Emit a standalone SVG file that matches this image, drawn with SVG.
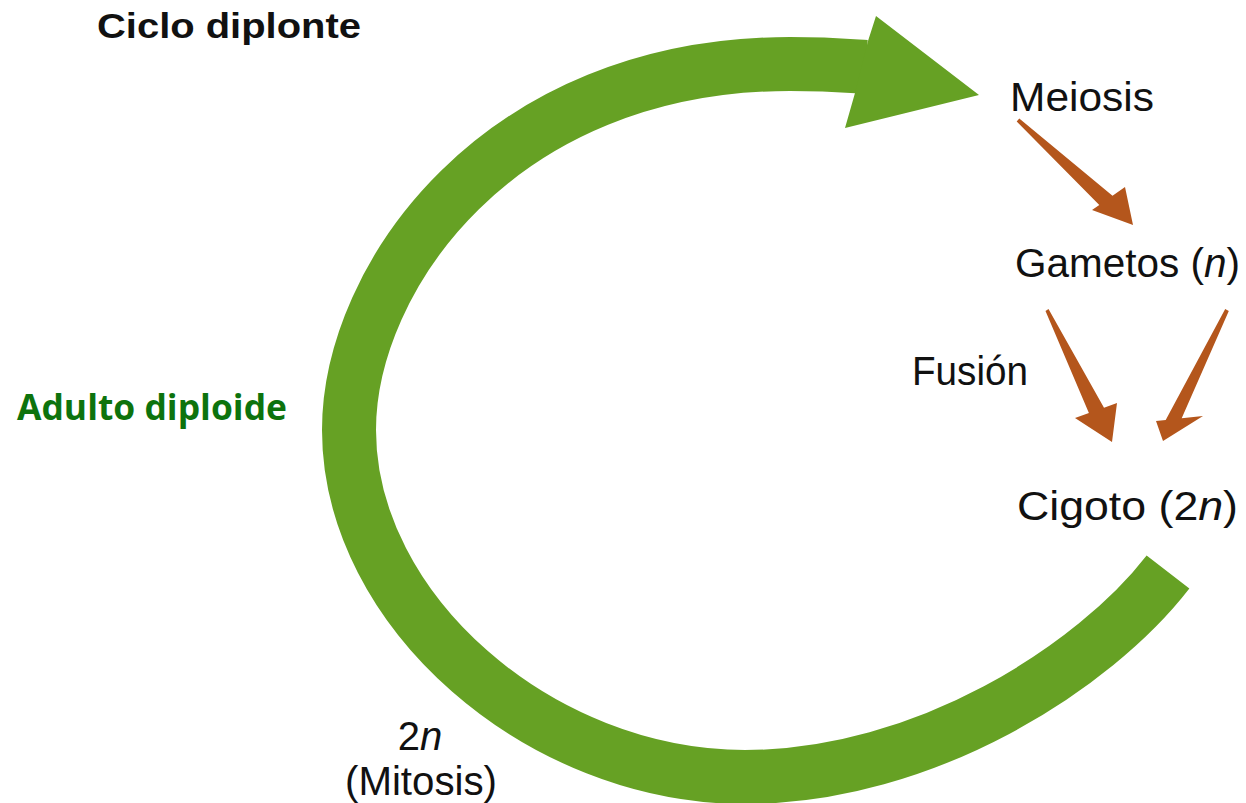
<svg xmlns="http://www.w3.org/2000/svg" width="1246" height="803" viewBox="0 0 1246 803">
  <style>
    .lbl { font-family: "Liberation Sans", Arial, sans-serif; font-size: 40px; fill: #111; }
    .title { font-family: "Liberation Sans", Arial, sans-serif; font-size: 35px; font-weight: bold; fill: #111; }
    .adult { font-family: "Open Sans", "Liberation Sans", sans-serif; font-size: 35px; font-weight: bold; fill: #0d730d; }
    .cycle { fill: none; stroke: #66a124; stroke-width: 54; stroke-linecap: butt; }
    .cyclehead { fill: #66a124; }
    .brown { fill: #b4561c; }
  </style>
  <rect width="1246" height="803" fill="#ffffff"/>

  <g id="cycle-arrow">
    <path class="cycle" d="M1168,572 C1094.8,666.8 925,777 745,777 C539.1,777 349,610.4 349,430 C349,278 498,64 790,64 C830,64 850,66 866,67"/>
    <polygon class="cyclehead" points="868,41 876,16 979,95 845,128 855,93"/>
  </g>

  <g id="connectors">
    <polygon class="brown" points="1016.7,121.5 1099.3,204.9 1092,210 1133,225 1125,187 1112.5,195.7 1019.3,118.5"/>
    <polygon class="brown" points="1045.5,311 1088.9,413.1 1075,418 1112,442 1117,403 1104,407.7 1048.5,309"/>
    <polygon class="brown" points="1228.8,310.9 1181.7,418.3 1203,416 1163,441 1156,421 1165.7,420 1225.2,309.1"/>
  </g>

  <g id="title"><text class="title" x="97" y="38" textLength="264" lengthAdjust="spacingAndGlyphs">Ciclo diplonte</text></g>
  <g id="node-adulto"><text class="adult" x="17" y="420" textLength="270" lengthAdjust="spacingAndGlyphs">Adulto diploide</text></g>
  <g id="node-meiosis"><text class="lbl" x="1010" y="111" textLength="144" lengthAdjust="spacingAndGlyphs">Meiosis</text></g>
  <g id="node-gametos"><text class="lbl" x="1015" y="277" textLength="225" lengthAdjust="spacingAndGlyphs">Gametos (<tspan font-style="italic">n</tspan>)</text></g>
  <g id="node-fusion"><text class="lbl" x="912" y="385" textLength="116" lengthAdjust="spacingAndGlyphs">Fusión</text></g>
  <g id="node-cigoto"><text class="lbl" x="1017" y="520" textLength="221" lengthAdjust="spacingAndGlyphs">Cigoto (2<tspan font-style="italic">n</tspan>)</text></g>
  <g id="node-mitosis">
    <text class="lbl" x="420" y="750" text-anchor="middle">2<tspan font-style="italic">n</tspan></text>
    <text class="lbl" x="421" y="795" text-anchor="middle" textLength="152" lengthAdjust="spacingAndGlyphs">(Mitosis)</text>
  </g>
</svg>
